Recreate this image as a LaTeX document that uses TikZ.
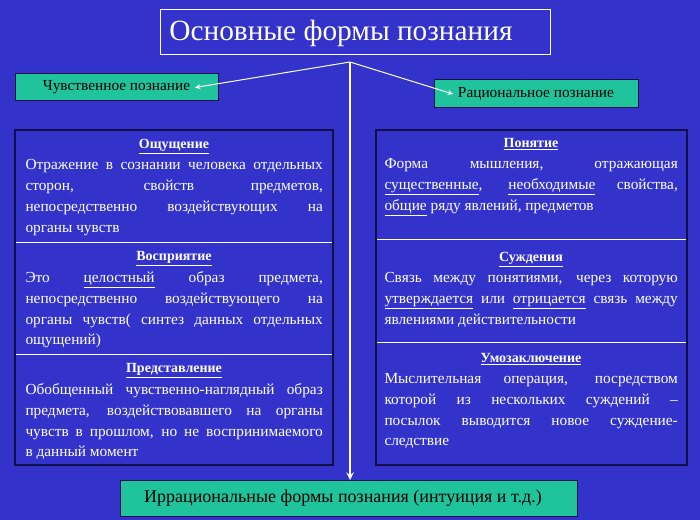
\documentclass[tikz,border=0pt]{standalone}
\usepackage{fontspec}
\setmainfont{Liberation Serif}
\definecolor{bgblue}{RGB}{51,51,204}
\definecolor{navy}{RGB}{16,16,72}
\definecolor{tealbox}{RGB}{32,196,156}
\tikzset{every picture/.style={line width=0.75pt}}
\tikzset{
  greenbox/.style={draw=navy,fill=tealbox,inner sep=0.75pt,anchor=north west},
  sectbox/.style={anchor=north west,inner sep=0pt,text width=223pt,align=justify,text=white,font=\fontsize{11.5}{15.6}\selectfont},
  headtext/.style={anchor=north,inner sep=0pt,text=white,font=\fontsize{10.5}{12}\selectfont\bfseries}
}
\begin{document}
\begin{tikzpicture}[x=0.75pt,y=0.75pt,yscale=-1,xscale=1]
	%Background
	\fill[bgblue] (0,0) rectangle (700,520);
	\useasboundingbox (0,0) rectangle (700,520);
	
	%Title
	\draw[white,fill=bgblue] (160,10) rectangle (550,55);
	\node (title) at (341,33) [text=white,font=\fontsize{22}{24}\selectfont] {Основные формы познания};
	\coordinate (hub) at (350,62);
	
	%Green labels
	\draw[greenbox] (15,74) rectangle (218,101);
	\node (sense) at (116.5,87.5) [font=\fontsize{11.5}{13}\selectfont] {Чувственное познание};
	\draw[greenbox] (434,80) rectangle (638,108);
	\node (ratio) at (536,94) [font=\fontsize{11.5}{13}\selectfont] {Рациональное познание};
	\draw[greenbox] (120,480) rectangle (577,516);
	\node (irrat) at (343,498) [font=\fontsize{13.5}{15}\selectfont] {Иррациональные формы познания (интуиция и т.д.)};
	
	%Connectors
	\draw[white,-stealth] (hub) -- (sense.east);
	\draw[white,-stealth] (hub) -- (ratio.west);
	\draw[white,line width=1.5,-stealth] (hub) -- (350,480);
	
	%Left block
	\draw[navy,line width=2] (15,130) rectangle (333,465);
	\draw[white] (16,243) -- (332,243);
	\draw[white] (16,355) -- (332,355);
	\node (h1) at (174,139) [headtext] {\underline{Ощущение}};
	\node (t1) at (25,159) [sectbox] {Отражение в сознании человека отдельных\linebreak сторон, свойств предметов,\linebreak непосредственно воздействующих на\linebreak органы чувств};
	\node (h2) at (174,251) [headtext] {\underline{Восприятие}};
	\node (t2) at (25,271) [sectbox] {Это \underline{целостный} образ предмета,\linebreak непосредственно воздействующего на\linebreak органы чувств( синтез данных отдельных\linebreak ощущений)};
	\node (h3) at (174,363) [headtext] {\underline{Представление}};
	\node (t3) at (25,383) [sectbox] {Обобщенный чувственно-наглядный образ\linebreak предмета, воздействовавшего на органы\linebreak чувств в прошлом, но не воспринимаемого\linebreak в~данный момент};
	
	%Right block
	\draw[navy,line width=2] (376,130) rectangle (687,465);
	\draw[white] (377,240) -- (686,240);
	\draw[white] (377,343) -- (686,343);
	\node (h4) at (531,138) [headtext] {\underline{Понятие}};
	\node (t4) at (384,158) [sectbox,text width=220pt] {Форма мышления, отражающая\linebreak \underline{существенные}, \underline{необходимые} свойства,\linebreak \underline{общие} ряду явлений, предметов};
	\node (h5) at (531,252) [headtext] {\underline{Суждения}};
	\node (t5) at (384,272) [sectbox,text width=220pt] {Связь между понятиями, через которую\linebreak \underline{утверждается} или \underline{отрицается} связь между\linebreak явлениями действительности};
	\node (h6) at (531,353) [headtext] {\underline{Умозаключение}};
	\node (t6) at (384,373) [sectbox,text width=220pt] {Мыслительная операция, посредством\linebreak которой из нескольких суждений --\linebreak посылок выводится новое суждение-\linebreak следствие};
\end{tikzpicture}
\end{document}
